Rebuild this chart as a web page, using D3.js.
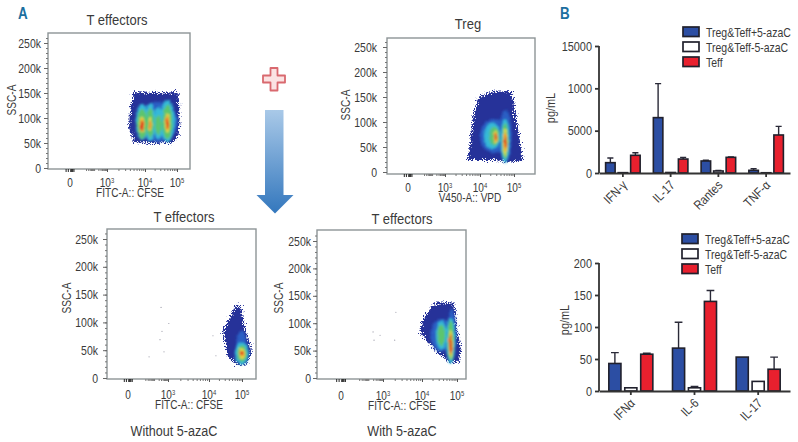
<!DOCTYPE html>
<html>
<head>
<meta charset="utf-8">
<script src="https://cdn.jsdelivr.net/npm/d3@7"></script>
<style>
  html, body { margin: 0; padding: 0; background: #fff; }
  svg { display: block; }
  text { font-family: "Liberation Sans", sans-serif; fill: #3a3a3a; }
</style>
</head>
<body>
<div id="chart"></div>
<script>
// cytokine bars, top panel
const topCats = ["IFN-γ", "IL-17", "Rantes", "TNF-α"];
const topBlue = [1220, 6540, 1420, 315];
const topBlueErr = [1770, 10560, 1500, 510];
const topWhite = [40, 60, 240, 30];
const topWhiteErr = [40, 60, 300, 30];
const topRed = [2090, 1650, 1850, 4490];
const topRedErr = [2400, 1850, 1900, 5510];
const topTicks = [0, 5000, 10000, 15000];
const topTickLabels = ["0", "5000", "1000", "15000"];

// cytokine bars, bottom panel
const botCats = ["IFNα", "IL-6", "IL-17"];
const botBlue = [43, 67, 53];
const botBlueErr = [60, 107.5, 53];
const botWhite = [5, 5, 15];
const botWhiteErr = [5, 7, 15];
const botRed = [57.5, 140, 34];
const botRedErr = [59, 157, 53];
const botTicks = [0, 50, 100, 150, 200];

const seriesNames = ["Treg&Teff+5-azaC", "Treg&Teff-5-azaC", "Teff"];
const seriesColors = ["#2c4ea3", "#ffffff", "#e8202e"];

// flow plots: [x in decades, SSC in k], outer scatter outline
const effOutline = [[3.6,110],[3.7,152],[4.3,150],[5.05,152],[5.08,100],[5.05,64],[4.9,52],[4.3,50],[3.72,52],[3.58,80]];
const tregOutline = [[3.95,148],[4.3,160],[4.92,162],[5.05,110],[5.2,50],[5.25,24],[4.9,20],[4.7,22],[4.4,24],[3.65,24],[3.72,60],[3.8,110]];
const noAzaOutline = [[4.66,112],[4.85,134],[4.98,124],[5.08,90],[5.24,58],[5.26,40],[5.1,24],[4.85,24],[4.54,40],[4.48,70],[4.42,85]];
const azaOutline = [[4.18,122],[4.4,138],[4.92,138],[4.97,100],[5.1,56],[5.06,30],[4.8,28],[4.55,42],[4.28,58],[3.95,84],[4.0,105]];

// density patches: [level, x, k, rx, ry]
const effDensity = [
  [1,4.4,92,0.62,40],
  [2,3.92,92,0.18,36],[2,4.16,92,0.16,38],[2,4.42,90,0.16,32],[2,4.7,94,0.23,42],
  [3,3.92,88,0.14,30],[3,4.16,90,0.12,30],[3,4.42,86,0.1,20],[3,4.7,92,0.16,34],
  [4,3.92,86,0.07,17],[4,4.16,88,0.05,14],[4,4.7,90,0.08,20],
  [5,3.92,85,0.055,13],[5,4.16,86,0.035,9],[5,4.7,90,0.055,15],
  [6,3.92,84,0.035,9],[6,4.7,88,0.035,9]
];
const tregDensity = [
  [1,4.42,72,0.42,34],[1,4.75,72,0.18,52],
  [2,4.36,72,0.24,26],[2,4.74,62,0.13,44],
  [3,4.42,72,0.15,19],[3,4.74,62,0.09,36],
  [4,4.46,70,0.06,13],[4,4.74,60,0.065,27],
  [5,4.46,70,0.045,9],[5,4.74,60,0.05,18],
  [6,4.46,70,0.03,6],[6,4.74,60,0.035,12]
];
const noAzaDensity = [
  [1,4.98,58,0.15,28],
  [2,4.99,44,0.2,20],
  [3,5,44,0.14,15],
  [4,5,44,0.085,10],
  [5,5,44,0.055,6],
  [6,5,44,0.035,4]
];
const azaDensity = [
  [1,4.55,78,0.3,30],[1,4.85,78,0.12,48],
  [2,4.55,78,0.15,26],[2,4.82,68,0.13,42],
  [3,4.55,78,0.11,20],[3,4.82,68,0.09,36],
  [4,4.82,62,0.055,26],
  [5,4.82,62,0.045,20],
  [6,4.82,62,0.03,16]
];

// stray events
const noAzaStray = [[2.48,127],[3.02,98],[2.55,84],[2.4,69],[2.7,47],[1.58,38],[4.12,76],[4.21,40]];
const azaStray = [[2.29,84],[2.79,78],[2.36,69],[3.3,69],[3.33,120]];

const flowYTicks = [0, 50, 100, 150, 200, 250];
const flowYLabels = ["0", "50k", "100k", "150k", "200k", "250k"];
const flowXTicks = [0, 3, 4, 5];
const flowXLabels = [["0"], ["10", "3"], ["10", "4"], ["10", "5"]];
const levelColors = ["#263199", "#2a5fc4", "#35b9d8", "#5cc56e", "#e6dc40", "#f2902c", "#de241e"];

const width = 798;
const height = 442;

const svg = d3.select("#chart").append("svg")
  .attr("width", width)
  .attr("height", height)
  .attr("viewBox", `0 0 ${width} ${height}`);

const defs = svg.append("defs");

const rough = defs.append("filter").attr("id", "rough")
  .attr("x", "-20%").attr("y", "-20%").attr("width", "140%").attr("height", "140%");
rough.append("feTurbulence").attr("type", "fractalNoise").attr("baseFrequency", 1.1)
  .attr("numOctaves", 1).attr("seed", 4).attr("result", "n");
rough.append("feDisplacementMap").attr("in", "SourceGraphic").attr("in2", "n")
  .attr("scale", 12).attr("xChannelSelector", "R").attr("yChannelSelector", "G").attr("result", "d");
rough.append("feGaussianBlur").attr("in", "d").attr("stdDeviation", 0.35);

const soft = defs.append("filter").attr("id", "soft")
  .attr("x", "-30%").attr("y", "-30%").attr("width", "160%").attr("height", "160%");
soft.append("feTurbulence").attr("type", "fractalNoise").attr("baseFrequency", 0.6)
  .attr("numOctaves", 2).attr("seed", 9).attr("result", "n");
soft.append("feDisplacementMap").attr("in", "SourceGraphic").attr("in2", "n")
  .attr("scale", 3.5).attr("xChannelSelector", "R").attr("yChannelSelector", "G").attr("result", "d");
soft.append("feGaussianBlur").attr("in", "d").attr("stdDeviation", 0.85);

const arrowGrad = defs.append("linearGradient").attr("id", "arrowGrad")
  .attr("x1", 0).attr("y1", 0).attr("x2", 0).attr("y2", 1);
arrowGrad.append("stop").attr("offset", "0%").attr("stop-color", "#a9c9e8");
arrowGrad.append("stop").attr("offset", "100%").attr("stop-color", "#3377bd");

const outlineLine = d3.line().curve(d3.curveLinearClosed);

function drawFlow(p) {
  const g = svg.append("g");

  const x = d3.scaleLinear().domain(p.xDomain).range(p.xRange);
  const y = d3.scaleLinear().domain([0, 250]).range(p.yRange);

  // frame
  g.append("rect")
    .attr("x", p.left).attr("y", p.top)
    .attr("width", p.right - p.left).attr("height", p.bottom - p.top)
    .attr("fill", "#fff").attr("stroke", "#8d9496").attr("stroke-width", 1.4);

  // density
  g.append("path")
    .attr("d", outlineLine(p.outline.map(d => [x(d[0]), y(d[1])])))
    .attr("fill", levelColors[0])
    .attr("filter", "url(#rough)");

  const cloud = g.append("g").attr("filter", "url(#soft)");
  cloud.selectAll("ellipse")
    .data(p.density)
    .join("ellipse")
    .attr("cx", d => x(d[1]))
    .attr("cy", d => y(d[2]))
    .attr("rx", d => Math.abs(x(d[1] + d[3]) - x(d[1])))
    .attr("ry", d => Math.abs(y(d[2] + d[4]) - y(d[2])))
    .attr("fill", d => levelColors[d[0]]);

  g.selectAll(".stray")
    .data(p.stray)
    .join("circle")
    .attr("class", "stray")
    .attr("cx", d => x(d[0]))
    .attr("cy", d => y(d[1]))
    .attr("r", 0.6)
    .attr("fill", "#9a9aa8");

  // y axis, minor then major
  const yMinor = d3.axisLeft(y)
    .tickValues(d3.range(0, 261, 10))
    .tickSize(2)
    .tickFormat("");
  g.append("g").attr("transform", `translate(${p.left},0)`).call(yMinor)
    .call(s => s.select(".domain").remove())
    .call(s => s.selectAll("line").attr("stroke", "#777"));

  const yAxis = d3.axisLeft(y)
    .tickValues(flowYTicks)
    .tickSize(4)
    .tickPadding(p.yPad)
    .tickFormat((d, i) => flowYLabels[i]);
  g.append("g").attr("transform", `translate(${p.left},0)`).call(yAxis)
    .call(s => s.select(".domain").remove())
    .call(s => s.selectAll("line").attr("stroke", "#666"))
    .call(s => s.selectAll("text").style("font-size", "12.5px"));

  // x axis, log minors and the cluster around zero
  const mults = [2, 3, 4, 5, 6, 7, 8, 9];
  const xMinorVals = [1, 2, 3, 4].flatMap(dec => mults.map(m => dec + Math.log10(m)))
    .filter(v => v < p.xDomain[p.xDomain.length - 1]);
  const xMinor = d3.axisBottom(x).tickValues(xMinorVals).tickSize(2).tickFormat("");
  g.append("g").attr("transform", `translate(0,${p.bottom})`).call(xMinor)
    .call(s => s.select(".domain").remove())
    .call(s => s.selectAll("line").attr("stroke", "#777"));

  const xZero = d3.axisBottom(x).tickValues([-0.12, -0.06, 0, 0.06, 0.12, 0.18, 0.28]).tickSize(3).tickFormat("");
  g.append("g").attr("transform", `translate(0,${p.bottom})`).call(xZero)
    .call(s => s.select(".domain").remove())
    .call(s => s.selectAll("line").attr("stroke", "#222"));

  const xAxis = d3.axisBottom(x).tickValues(flowXTicks).tickSize(3).tickFormat("");
  g.append("g").attr("transform", `translate(0,${p.bottom})`).call(xAxis)
    .call(s => s.select(".domain").remove())
    .call(s => s.selectAll("line").attr("stroke", "#555"));

  flowXTicks.forEach((t, i) => {
    const label = g.append("text")
      .attr("x", x(t)).attr("y", p.xTickY)
      .attr("text-anchor", "middle")
      .style("font-size", "12px");
    label.append("tspan").text(flowXLabels[i][0]);
    if (flowXLabels[i][1]) {
      label.append("tspan").attr("dy", -4).style("font-size", "7px").text(flowXLabels[i][1]);
    }
  });

  g.append("text").attr("x", p.xLabelX).attr("y", p.xLabelY)
    .attr("text-anchor", "middle").style("font-size", "12px").text(p.xLabel);

  g.append("text")
    .attr("transform", `translate(${p.yLabelX},${p.yLabelY}) rotate(-90)`)
    .attr("text-anchor", "middle").style("font-size", "12px").text("SSC-A");

  g.append("text").attr("x", p.titleX).attr("y", p.titleY)
    .attr("text-anchor", "middle").style("font-size", "15.5px").text(p.title);
}

drawFlow({
  left: 48, right: 190, top: 33, bottom: 169,
  xDomain: [-0.6, 0, 3, 4, 5, 5.4], xRange: [48, 70, 107, 145, 177, 190],
  yRange: [168, 43], yPad: 3,
  outline: effOutline, density: effDensity, stray: [],
  xTickY: 187, xLabel: "FITC-A:: CFSE", xLabelX: 130, xLabelY: 197,
  yLabelX: 16, yLabelY: 100, title: "T effectors", titleX: 117, titleY: 25
});

drawFlow({
  left: 387, right: 535, top: 38, bottom: 174,
  xDomain: [-0.6, 0, 3, 4, 5, 5.6], xRange: [387, 408, 445, 480, 514, 535],
  yRange: [172, 47], yPad: 6,
  outline: tregOutline, density: tregDensity, stray: [],
  xTickY: 192, xLabel: "V450-A:: VPD", xLabelX: 470, xLabelY: 202,
  yLabelX: 350, yLabelY: 105, title: "Treg", titleX: 468, titleY: 29
});

drawFlow({
  left: 107, right: 256, top: 229, bottom: 379,
  xDomain: [-0.6, 0, 3, 4, 5, 5.4], xRange: [107, 128, 168, 209, 242, 256],
  yRange: [378, 239], yPad: 5,
  outline: noAzaOutline, density: noAzaDensity, stray: noAzaStray,
  xTickY: 399, xLabel: "FITC-A:: CFSE", xLabelX: 189, xLabelY: 409,
  yLabelX: 71, yLabelY: 298, title: "T effectors", titleX: 184, titleY: 222
});

drawFlow({
  left: 317, right: 466, top: 230, bottom: 379,
  xDomain: [-0.6, 0, 3, 4, 5, 5.25], xRange: [317, 341, 383, 422, 457, 466],
  yRange: [378, 241], yPad: 2,
  outline: azaOutline, density: azaDensity, stray: azaStray,
  xTickY: 400, xLabel: "FITC-A:: CFSE", xLabelX: 402, xLabelY: 410,
  yLabelX: 283, yLabelY: 298, title: "T effectors", titleX: 402, titleY: 224
});

function drawBars(b) {
  const g = svg.append("g");
  const x0 = d3.scaleBand().domain(b.cats).range([b.left, b.right]);
  const x1 = d3.scaleBand().domain(seriesNames)
    .range([b.innerPad, x0.bandwidth() - b.innerPad]).padding(0.24);
  const y = d3.scaleLinear().domain(b.domain).range([b.bottom, b.top]);

  const rows = b.cats.flatMap((c, i) => b.vals.map((v, s) => ({
    cat: c, name: seriesNames[s], color: seriesColors[s], v: v[i], err: b.errs[s][i]
  })));

  const groups = g.selectAll(".bar").data(rows).join("g").attr("class", "bar");

  // error whisker first, then bar over it
  groups.filter(d => d.err > d.v).append("path")
    .attr("d", d => {
      const cx = x0(d.cat) + x1(d.name) + x1.bandwidth() / 2;
      const cap = x1.bandwidth() * 0.32;
      return `M${cx},${y(d.v)}V${y(d.err)}M${cx - cap},${y(d.err)}H${cx + cap}`;
    })
    .attr("fill", "none").attr("stroke", "#2a2a38").attr("stroke-width", 1.4);

  groups.append("rect")
    .attr("x", d => x0(d.cat) + x1(d.name))
    .attr("y", d => y(d.v))
    .attr("width", x1.bandwidth())
    .attr("height", d => b.bottom - y(d.v))
    .attr("fill", d => d.color)
    .attr("stroke", "#20202c").attr("stroke-width", 1.6);

  const yAxis = d3.axisLeft(y).tickValues(b.ticks).tickSize(4).tickPadding(3)
    .tickFormat((d, i) => b.tickLabels[i]);
  g.append("g").attr("transform", `translate(${b.left},0)`).call(yAxis)
    .call(s => s.selectAll("line,path").attr("stroke", "#333").attr("stroke-width", 1.8))
    .call(s => s.select(".domain").attr("d", `M0,${b.bottom}V${b.top}`))
    .call(s => s.selectAll("text").style("font-size", "13px"));

  const xAxis = d3.axisBottom(x0).tickSize(4).tickSizeOuter(0).tickFormat("");
  g.append("g").attr("transform", `translate(0,${b.bottom})`).call(xAxis)
    .call(s => s.selectAll("line,path").attr("stroke", "#333").attr("stroke-width", 1.8));

  g.selectAll(".cat").data(b.cats).join("text")
    .attr("class", "cat")
    .attr("text-anchor", "end")
    .attr("transform", d => `translate(${x0(d) + x0.bandwidth() / 2 + 5},${b.bottom + 13}) rotate(-45)`)
    .style("font-size", "13px")
    .text(d => d);

  g.append("text")
    .attr("transform", `translate(${b.labelX},${b.labelY}) rotate(-90)`)
    .attr("text-anchor", "middle").style("font-size", "13px").text("pg/mL");

  const legend = g.selectAll(".leg").data(seriesNames).join("g")
    .attr("class", "leg")
    .attr("transform", (d, i) => `translate(${b.legendX},${b.legendY + i * 15})`);
  legend.append("rect").attr("width", 16).attr("height", 9.5)
    .attr("fill", (d, i) => seriesColors[i])
    .attr("stroke", "#20202c").attr("stroke-width", 1.7);
  legend.append("text").attr("x", 23).attr("y", 9.5)
    .style("font-size", "12.5px").text(d => d);
}

drawBars({
  cats: topCats, left: 599, right: 790, top: 46, bottom: 173,
  domain: [0, 15000], ticks: topTicks, tickLabels: topTickLabels, innerPad: 3.6,
  vals: [topBlue, topWhite, topRed], errs: [topBlueErr, topWhiteErr, topRedErr],
  labelX: 555, labelY: 108, legendX: 683, legendY: 27
});

drawBars({
  cats: botCats, left: 599, right: 790, top: 263, bottom: 391,
  domain: [0, 200], ticks: botTicks, tickLabels: botTicks.map(String), innerPad: 6,
  vals: [botBlue, botWhite, botRed], errs: [botBlueErr, botWhiteErr, botRedErr],
  labelX: 569, labelY: 320, legendX: 682, legendY: 234
});

// panel letters and captions
svg.append("text").attr("x", 18).attr("y", 19)
  .style("font-size", "16px").style("font-weight", "bold").style("fill", "#1b6f9f").text("A");
svg.append("text").attr("x", 560).attr("y", 19)
  .style("font-size", "16px").style("font-weight", "bold").style("fill", "#1b6f9f").text("B");
svg.append("text").attr("x", 174).attr("y", 436).attr("text-anchor", "middle")
  .style("font-size", "15px").text("Without 5-azaC");
svg.append("text").attr("x", 402).attr("y", 436).attr("text-anchor", "middle")
  .style("font-size", "15px").text("With 5-azaC");

// plus sign and arrow between the top and bottom plots
svg.append("path")
  .attr("d", "M270.5,68h7v7.5h7.5v7h-7.5v8h-7v-8h-7.5v-7h7.5z")
  .attr("fill", "#fbe3e3").attr("stroke", "#d9696f").attr("stroke-width", 1.8)
  .attr("stroke-linejoin", "round");
svg.append("path")
  .attr("d", "M265,110h18.5v85h10l-18.5,18.5l-18.5,-18.5h8.5z")
  .attr("fill", "url(#arrowGrad)");

// the journal set everything in a condensed face, squeeze the text around its anchor
svg.selectAll("text").each(function() {
  const t = d3.select(this);
  const ax = +(t.attr("x") || 0);
  const base = t.attr("transform") || "";
  t.attr("transform", `${base} translate(${ax},0) scale(0.84,1) translate(${-ax},0)`);
});
</script>
</body>
</html>
